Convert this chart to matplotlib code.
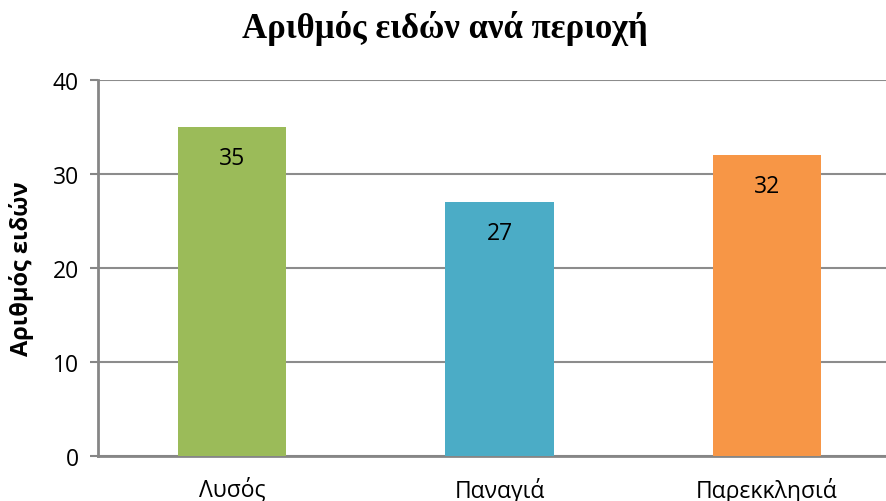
import numpy as np
import matplotlib
matplotlib.use("Agg")
import matplotlib.pyplot as plt

# ----------------------------
# Data
# ----------------------------
regions = ["Λυσός", "Παναγιά", "Παρεκκλησιά"]
species_counts = [35, 27, 32]
bar_colors = ["#9BBB59", "#4BACC6", "#F79646"]
y_ticks = [0, 10, 20, 30, 40]

TITLE = "Αριθμός ειδών ανά περιοχή"
Y_LABEL = "Αριθμός ειδών"

plt.rcParams["font.family"] = ["Open Sans", "DejaVu Sans"]

# ----------------------------
# Figure
# ----------------------------
fig = plt.figure(figsize=(8.87, 5.02), dpi=100)
ax = fig.add_axes([98.25 / 887, 45.3 / 502, 802.5 / 887, 376 / 502])

x = np.arange(len(regions))
bars = ax.bar(x, species_counts, width=0.404, color=bar_colors, zorder=3)

for rect, val in zip(bars, species_counts):
    ax.text(rect.get_x() + rect.get_width() / 2, val - 3.3, str(val),
            ha="center", va="center", fontsize=16.5, color="black", zorder=4)

ax.set_xlim(-0.5, len(regions) - 0.5)
ax.set_ylim(0, 40)
ax.set_yticks(y_ticks)
ax.set_xticks(x)
ax.set_xticklabels(regions, fontsize=16.5)
ax.tick_params(axis="x", length=0, pad=15)
ax.tick_params(axis="y", length=6, width=1.5, color="#868686", labelsize=16.5, pad=8)

ax.yaxis.grid(True, color="#8c8c8c", linewidth=1.5, zorder=0)
ax.set_axisbelow(True)

for side in ["top", "right"]:
    ax.spines[side].set_visible(False)
for side in ["left", "bottom"]:
    ax.spines[side].set_color("#868686")
    ax.spines[side].set_linewidth(2)

ax.set_ylabel(Y_LABEL, fontsize=17, fontweight="bold")
ax.yaxis.set_label_coords(-64 / 802.5, 0.5)

fig.text(445 / 887, 1 - 29 / 502, TITLE, ha="center", va="center",
         fontsize=25, fontweight="bold", family=["Liberation Serif", "DejaVu Serif"])

fig.savefig("out.png", dpi=100)
